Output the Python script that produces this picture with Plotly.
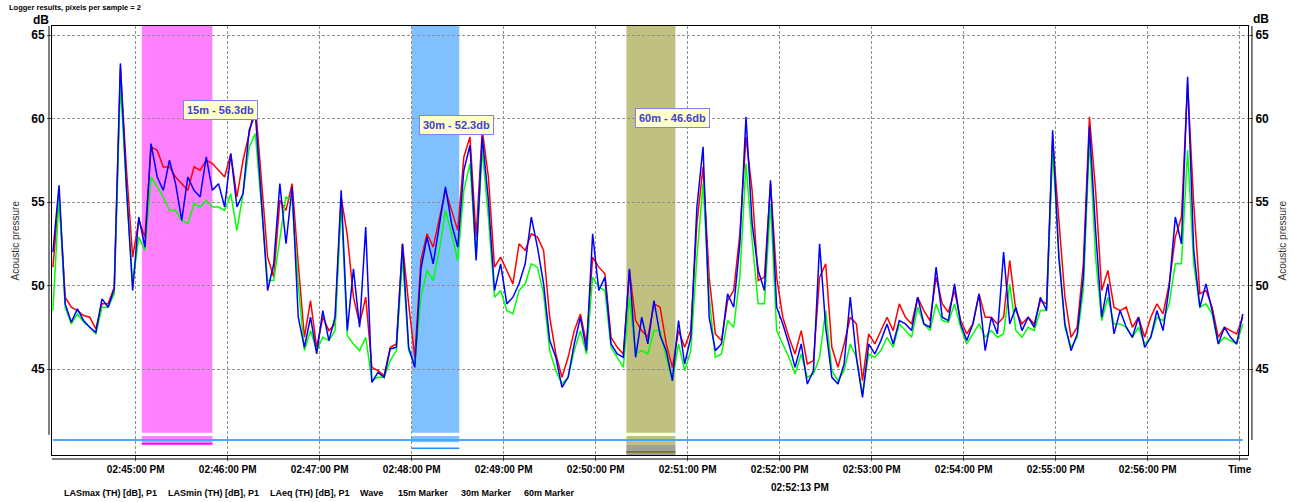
import plotly.graph_objects as go
import pandas as pd

# ---------------- data ----------------
SAMPLE_START = "2024-01-01 14:44:06"
SAMPLE_STEP_S = 4

las_max = [51.1,55.4,49.3,48.7,48.5,48.2,48.1,47.4,48.9,48.9,49.9,63.0,56.9,51.7,53.9,52.9,58.3,58.1,57.1,57.1,
           56.5,56.1,55.7,57.1,56.9,57.5,57.3,56.9,56.5,57.9,55.3,57.5,59.1,60.9,56.5,51.7,50.5,55.1,54.5,56.1,
           51.3,46.9,49.1,46.3,48.1,47.3,47.7,55.3,53.0,49.3,47.7,49.3,45.1,44.9,44.6,46.3,46.5,52.5,48.9,45.7,
           51.5,53.1,52.3,53.9,55.7,54.5,53.3,57.7,58.9,52.9,59.3,56.5,51.1,51.7,50.9,50.1,52.5,52.1,53.1,52.9,
           52.1,48.1,45.9,44.5,45.7,47.3,48.3,46.5,51.7,51.1,50.7,46.9,46.3,45.9,50.9,47.9,47.3,46.9,48.9,48.7,
           46.5,45.1,47.3,46.3,47.3,53.7,57.1,50.5,47.1,46.7,49.1,49.7,53.1,58.9,55.7,50.3,50.5,56.1,50.5,48.1,
           46.9,45.9,47.3,45.3,45.5,50.5,51.3,46.3,45.1,46.5,48.1,47.7,44.3,47.1,46.5,47.3,48.1,47.3,48.9,48.1,
           47.7,49.3,48.5,47.9,50.5,48.9,48.4,49.7,47.9,47.1,47.7,49.5,48.1,48.1,47.7,48.1,51.5,48.5,47.7,48.1,
           47.7,49.1,48.9,58.7,54.1,49.3,46.9,47.5,51.3,60.1,55.7,49.7,50.9,48.7,48.5,48.7,47.5,48.1,46.9,48.1,
           48.9,48.3,50.1,52.9,54.1,62.1,54.9,49.5,49.7,48.7,46.9,47.5,47.3,47.1,48.1]

las_min = [48.5,55.3,48.7,47.7,48.3,47.8,47.5,47.1,48.7,48.7,49.5,62.1,55.7,50.1,52.9,52.1,56.5,55.9,55.3,54.5,
           54.5,53.9,53.7,54.9,54.7,55.1,54.7,54.7,54.5,55.5,53.3,55.5,58.3,59.1,54.5,50.3,50.3,52.9,55.3,55.1,
           50.1,46.1,47.3,46.1,46.9,46.7,47.3,54.9,47.0,46.5,46.1,46.9,44.3,44.5,44.5,45.5,46.1,51.7,46.1,45.3,
           49.3,50.9,50.3,52.1,54.5,53.1,51.5,55.7,57.3,51.7,58.1,54.1,49.3,49.7,48.5,48.3,49.7,50.1,51.3,51.1,
           49.5,46.1,44.9,44.1,44.5,46.1,47.3,45.9,50.5,49.9,49.7,46.3,45.7,45.1,49.3,45.9,46.1,45.9,47.3,47.3,
           45.7,44.3,46.5,44.9,46.1,51.7,56.1,49.3,45.7,45.9,47.9,47.5,50.5,57.3,52.7,48.9,48.9,54.9,47.3,46.5,
           45.7,44.7,45.9,44.5,44.7,45.7,48.5,44.9,44.3,44.9,46.5,45.7,43.5,45.9,45.7,46.1,46.9,46.3,47.7,47.3,
           46.9,48.7,47.7,47.3,48.9,47.9,47.8,48.9,47.5,46.5,47.1,47.7,46.9,47.3,46.9,47.1,50.1,47.3,46.9,47.5,
           47.3,48.5,48.5,58.1,52.1,47.5,46.3,46.9,49.7,58.7,51.7,47.9,49.3,47.7,47.7,47.5,46.9,47.5,46.5,46.9,
           48.1,47.9,48.9,51.3,51.3,58.1,51.3,48.7,48.9,48.3,46.5,46.9,46.7,46.5,47.7]

la_eq = [52.0,56.0,48.9,47.8,48.6,47.9,47.5,47.2,49.2,48.7,49.8,63.3,55.8,49.7,54.1,52.3,58.5,56.5,55.7,57.5,
         56.1,53.9,56.5,55.7,55.3,57.7,55.7,56.1,54.7,57.9,54.7,55.5,59.3,60.3,55.1,49.7,51.3,56.1,52.5,55.9,
         48.1,46.3,48.1,45.9,48.5,46.7,48.1,55.7,47.3,51.0,47.5,53.5,44.2,44.8,44.5,46.2,46.3,52.5,46.3,45.1,
         51.0,52.9,51.3,53.7,55.9,53.7,52.3,56.9,58.4,51.5,58.9,55.1,49.7,51.3,48.9,49.3,50.1,51.3,54.1,52.3,
         50.1,46.7,45.7,43.9,44.5,46.5,48.1,46.1,53.1,49.7,50.5,46.5,45.9,45.7,51.0,45.7,48.1,46.5,49.1,47.0,
         46.1,44.3,47.9,45.3,46.9,54.7,58.3,48.1,46.1,46.5,49.5,48.7,52.5,60.1,53.7,50.9,49.7,56.3,48.7,47.7,
         46.5,45.1,46.5,44.1,44.9,52.5,47.5,44.5,44.1,45.3,49.3,45.7,43.3,46.5,45.9,46.7,47.7,46.5,47.9,47.7,
         47.3,49.3,47.7,47.5,51.1,48.1,47.9,50.1,47.7,46.7,47.7,49.5,46.1,48.1,47.1,52.0,47.7,48.7,47.3,48.1,
         47.5,49.3,48.5,59.3,51.7,47.7,46.1,47.1,50.5,59.5,53.3,48.1,50.1,47.1,48.5,47.5,46.9,48.1,46.3,46.9,
         48.5,47.3,49.9,54.1,52.5,62.5,52.1,48.7,50.1,48.5,46.5,47.5,46.9,46.5,48.3]

wave_level = 40.75

marker_names = ["15m Marker", "30m Marker", "60m Marker"]
marker_start = ["2024-01-01 14:45:04", "2024-01-01 14:48:00", "2024-01-01 14:50:20"]
marker_end = ["2024-01-01 14:45:50", "2024-01-01 14:48:31", "2024-01-01 14:50:52"]
marker_labels = ["15m - 56.3db", "30m - 52.3db", "60m - 46.6db"]
label_time = ["2024-01-01 14:45:55", "2024-01-01 14:48:29", "2024-01-01 14:50:50"]
label_db = [60.5, 59.6, 60.05]

tick_times = pd.date_range("2024-01-01 14:45:00", "2024-01-01 14:57:00", freq="1min")
tick_text = [t.strftime("%I:%M:%S %p") for t in tick_times[:-1]] + ["Time"]
cursor_time = "2024-01-01 14:52:13"

x_range = ["2024-01-01 14:44:05.4", "2024-01-01 14:57:05.4"]
y_range = [39.85, 65.54]

legend_names = ["LASmax (TH) [dB], P1", "LASmin (TH) [dB], P1", "LAeq (TH) [dB], P1",
                "Wave", "15m Marker", "30m Marker", "60m Marker"]

# ---------------- figure ----------------
times = pd.date_range(SAMPLE_START, periods=len(la_eq), freq=f"{SAMPLE_STEP_S}s")

fig = go.Figure()
line_w = 1.5
fig.add_trace(go.Scatter(x=times, y=las_max, mode="lines", name=legend_names[0],
                         line=dict(color="#ff0000", width=line_w)))
fig.add_trace(go.Scatter(x=times, y=las_min, mode="lines", name=legend_names[1],
                         line=dict(color="#00ff00", width=line_w)))
fig.add_trace(go.Scatter(x=times, y=la_eq, mode="lines", name=legend_names[2],
                         line=dict(color="#0000ff", width=line_w)))
fig.add_trace(go.Scatter(x=[times[0], times[-1]], y=[wave_level, wave_level], mode="lines",
                         name="Wave", line=dict(color="#4aa8ff", width=2)))
# invisible trace to activate right axis
fig.add_trace(go.Scatter(x=[times[0]], y=[wave_level], yaxis="y2", mode="markers",
                         marker=dict(opacity=0), showlegend=False, hoverinfo="skip"))

shade_cols = ["#ff80ff", "#80c0ff", "#c0c080"]
shapes = []
for i in range(3):
    shapes.append(dict(type="rect", xref="x", yref="y domain", x0=marker_start[i], x1=marker_end[i],
                       y0=0.052, y1=1, fillcolor=shade_cols[i], line=dict(width=0), layer="below"))
# lower lane
shapes.append(dict(type="rect", xref="x", yref="y domain", x0=marker_start[0], x1=marker_end[0],
                   y0=0.0233, y1=0.0443, fillcolor="#ff80ff", line=dict(width=0), layer="below"))
shapes.append(dict(type="line", xref="x", yref="y domain", x0=marker_start[0], x1=marker_end[0],
                   y0=0.026, y1=0.026, line=dict(color="#ff00ff", width=1.5), layer="below"))
shapes.append(dict(type="rect", xref="x", yref="y domain", x0=marker_start[1], x1=marker_end[1],
                   y0=0.030, y1=0.0443, fillcolor="#80c0ff", line=dict(width=0), layer="below"))
shapes.append(dict(type="line", xref="x", yref="y domain", x0=marker_start[1], x1=marker_end[1],
                   y0=0.016, y1=0.016, line=dict(color="#1e8cff", width=1.5), layer="below"))
shapes.append(dict(type="rect", xref="x", yref="y domain", x0=marker_start[2], x1=marker_end[2],
                   y0=0.0233, y1=0.0443, fillcolor="#c0c080", line=dict(width=0), layer="below"))
shapes.append(dict(type="rect", xref="x", yref="y domain", x0=marker_start[2], x1=marker_end[2],
                   y0=0.0, y1=0.0233, fillcolor="#a0a0a0", line=dict(width=0), layer="below"))
shapes.append(dict(type="line", xref="x", yref="y domain", x0=marker_start[2], x1=marker_end[2],
                   y0=0.007, y1=0.007, line=dict(color="#707000", width=1.5), layer="below"))
# outer axis lines
shapes.append(dict(type="line", xref="paper", yref="paper", x0=-0.0025, x1=-0.0025, y0=0.047, y1=1,
                   line=dict(color="#000000", width=1)))
shapes.append(dict(type="line", xref="paper", yref="paper", x0=1.0033, x1=1.0033, y0=0.035, y1=1,
                   line=dict(color="#000000", width=1)))
shapes.append(dict(type="line", xref="paper", yref="paper", x0=0, x1=1, y0=-0.0093, y1=-0.0093,
                   line=dict(color="#000000", width=1)))

annotations = []
for i in range(3):
    annotations.append(dict(x=label_time[i], y=label_db[i], xref="x", yref="y", text=marker_labels[i],
                            showarrow=False, bgcolor="#ffffcc", bordercolor="#8080ff", borderwidth=1,
                            borderpad=3, font=dict(family="Liberation Sans", size=11, color="#4040d0",
                                                   weight="bold")))
annotations.append(dict(x=cursor_time, y=-0.058, xref="x", yref="paper", yanchor="top",
                        text="02:52:13 PM", showarrow=False,
                        font=dict(family="Liberation Sans", size=10, color="#000000", weight="bold")))
annotations.append(dict(x=0.0, y=1.0, xref="paper", yref="paper", text="Logger results, pixels per sample = 2",
                        showarrow=False, xanchor="left", yanchor="middle", xshift=-45, yshift=19,
                        font=dict(family="Liberation Sans", size=7.5, color="#000000", weight="bold")))
annotations.append(dict(x=0, y=1, xref="paper", yref="paper", text="dB", showarrow=False,
                        xanchor="center", yanchor="middle", xshift=-11, yshift=6,
                        font=dict(family="Liberation Sans", size=12, color="#000000", weight="bold")))
annotations.append(dict(x=1, y=1, xref="paper", yref="paper", text="dB", showarrow=False,
                        xanchor="center", yanchor="middle", xshift=13, yshift=7,
                        font=dict(family="Liberation Sans", size=12, color="#000000", weight="bold")))
annotations.append(dict(x=0, y=0.5, xref="paper", yref="paper", text="Acoustic pressure", showarrow=False,
                        textangle=-90, xanchor="center", yanchor="middle", xshift=-37,
                        font=dict(family="Liberation Sans", size=10, color="#333333")))
annotations.append(dict(x=1, y=0.5, xref="paper", yref="paper", text="Acoustic pressure", showarrow=False,
                        textangle=-90, xanchor="center", yanchor="middle", xshift=34,
                        font=dict(family="Liberation Sans", size=10, color="#333333")))
legend_x = [62, 166, 268, 358, 396, 459, 522]
for name, lx in zip(legend_names, legend_x):
    annotations.append(dict(x=0, y=0, xref="paper", yref="paper", text=name, showarrow=False,
                            xanchor="left", yanchor="middle", xshift=lx - 52, yshift=-38,
                            font=dict(family="Liberation Sans", size=9, color="#000000", weight="bold")))

grid = dict(showgrid=True, gridcolor="#909090", gridwidth=1, griddash="3px,2px")
fig.update_layout(
    width=1294, height=502,
    margin=dict(l=52, r=46, t=26, b=47),
    paper_bgcolor="#ffffff", plot_bgcolor="#ffffff",
    showlegend=False,
    shapes=shapes, annotations=annotations,
    xaxis=dict(range=x_range, tickmode="array", tickvals=tick_times, ticktext=tick_text,
               showline=True, linecolor="#000000", linewidth=1, mirror=True, automargin=False,
               ticks="outside", ticklen=5, tickcolor="#555555",
               tickfont=dict(family="Liberation Sans", size=10, color="#000000", weight="bold"),
               zeroline=False, **grid),
    yaxis=dict(range=y_range, tickvals=[45, 50, 55, 60, 65], showline=True, linecolor="#000000",
               linewidth=1, mirror=True, ticks="outside", ticklen=4, tickcolor="#555555", automargin=False,
               tickfont=dict(family="Liberation Sans", size=12, color="#000000", weight="bold"),
               zeroline=False, **grid),
    yaxis2=dict(range=y_range, overlaying="y", side="right", tickvals=[45, 50, 55, 60, 65],
                ticks="outside", ticklen=4, tickcolor="#555555", showgrid=False, zeroline=False,
                automargin=False,
                tickfont=dict(family="Liberation Sans", size=12, color="#000000", weight="bold")),
)

fig.write_html("out.html", config={"displayModeBar": False},
               post_script="document.body.style.margin='0px';document.body.style.overflow='hidden';")
